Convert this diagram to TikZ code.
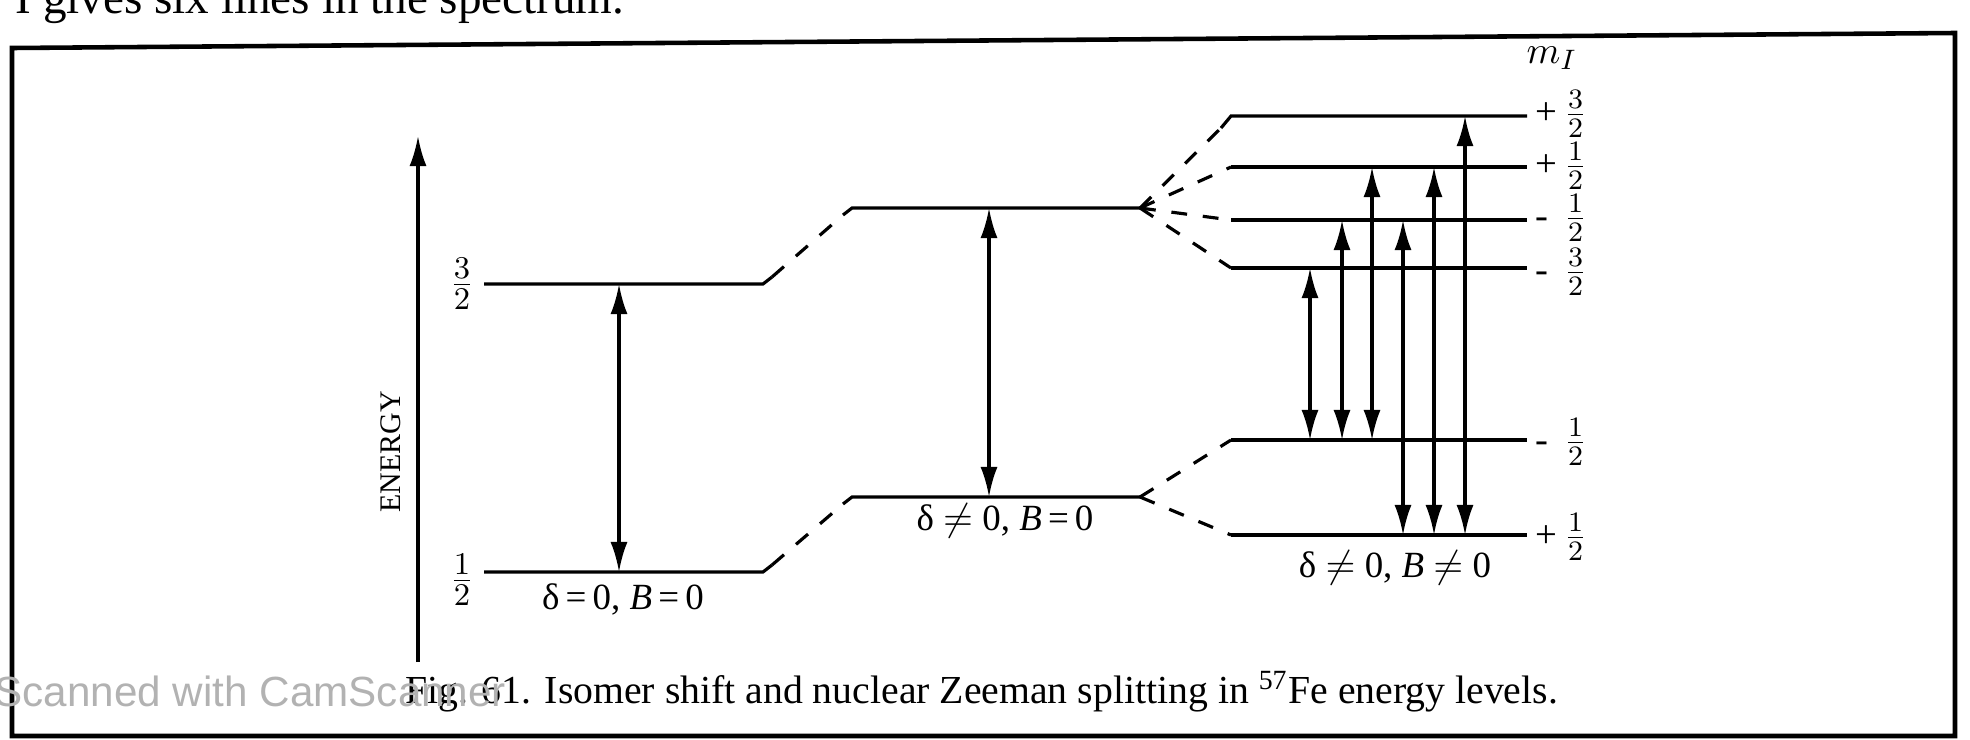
\documentclass[tikz,border=0pt]{standalone}
\usepackage{fontspec}
\setmainfont{Liberation Serif}
\newfontfamily\wmfont{Liberation Sans}
\usetikzlibrary{arrows.meta}
\tikzset{
  level/.style={line width=0.9pt},
  link/.style={line width=0.9pt, dash pattern=on 4.5pt off 4.5pt},
  trans/.style={line width=0.9pt, {Latex[length=3mm,width=1.7mm]}-{Latex[length=3mm,width=1.7mm]}},
  axis/.style={line width=0.9pt, -{Latex[length=3mm,width=1.7mm]}},
  mlabel/.style={anchor=west, inner sep=0pt, font=\fontsize{11}{12}\selectfont},
  cond/.style={font=\fontsize{10.5}{12}\selectfont},
}
\begin{document}
\begin{tikzpicture}[x=0.01cm,y=-0.01cm]
\useasboundingbox (0,0) rectangle (1970,739);
\draw[line width=1.3pt] (12,736) -- (12,48) -- (1955,33) -- (1955,736) -- cycle;
\node[anchor=base west, inner sep=0pt, font=\fontsize{13.4}{15}\selectfont] (prevline) at (15,13) {I gives six lines in the spectrum.};

\coordinate (ebot) at (418,662);
\coordinate (etop) at (418,136);
\draw[axis] (ebot) -- (etop);
\node[rotate=90, font=\fontsize{8.5}{10}\selectfont] (energy) at (391,452) {ENERGY};

\coordinate (a3l) at (484,284);
\coordinate (a3r) at (763,284);
\coordinate (a3e) at (772,277);
\coordinate (a1l) at (484,572);
\coordinate (a1r) at (763,572);
\coordinate (a1e) at (772,565);
\draw[level] (a3l) -- (a3r) -- (a3e);
\draw[level] (a1l) -- (a1r) -- (a1e);
\node[font=\fontsize{12.5}{14}\selectfont] (f3) at (462,284) {$\frac{3}{2}$};
\node[font=\fontsize{12.5}{14}\selectfont] (f1) at (462,580) {$\frac{1}{2}$};
\coordinate (ta) at (619,0);
\draw[trans] (ta |- a1l) -- (ta |- a3l);
\node[cond] (s0) at (623,599) {δ\,=\,0, \textit{B}\,=\,0};

\coordinate (m3s) at (843,215);
\coordinate (m3l) at (852,208);
\coordinate (m3r) at (1140,208);
\coordinate (m1s) at (843,504);
\coordinate (m1l) at (852,497);
\coordinate (m1r) at (1140,497);
\draw[link] (a3e) -- (m3s);
\draw[link] (a1e) -- (m1s);
\draw[level] (m3s) -- (m3l) -- (m3r);
\draw[level] (m1s) -- (m1l) -- (m1r);
\coordinate (tb) at (989,0);
\draw[trans] (tb |- m1l) -- (tb |- m3l);
\node[cond] (s1) at (1005,521) {δ \(\neq\) 0, \textit{B}\,=\,0};

\coordinate (r3s) at (1221,128);
\coordinate (r3l) at (1231,116);
\coordinate (r3r) at (1527,116);
\coordinate (r1l) at (1231,167);
\coordinate (r1r) at (1527,167);
\coordinate (rm1l) at (1231,220);
\coordinate (rm1r) at (1527,220);
\coordinate (rm3l) at (1231,268);
\coordinate (rm3r) at (1527,268);
\coordinate (gml) at (1231,440);
\coordinate (gmr) at (1527,440);
\coordinate (gpl) at (1231,535);
\coordinate (gpr) at (1527,535);
\draw[link] (m3r) -- (r3s);
\draw[link] (m3r) -- (r1l);
\draw[link] (m3r) -- (rm1l);
\draw[link] (m3r) -- (rm3l);
\draw[link] (m1r) -- (gml);
\draw[link] (m1r) -- (gpl);
\draw[level] (r3s) -- (r3l) -- (r3r);
\draw[level] (r1l) -- (r1r);
\draw[level] (rm1l) -- (rm1r);
\draw[level] (rm3l) -- (rm3r);
\draw[level] (gml) -- (gmr);
\draw[level] (gpl) -- (gpr);

\coordinate (x1) at (1310,0);
\coordinate (x2) at (1342,0);
\coordinate (x3) at (1372,0);
\coordinate (x4) at (1403,0);
\coordinate (x5) at (1434,0);
\coordinate (x6) at (1465,0);
\draw[trans] (x1 |- gml) -- (x1 |- rm3l);
\draw[trans] (x2 |- gml) -- (x2 |- rm1l);
\draw[trans] (x3 |- gml) -- (x3 |- r1l);
\draw[trans] (x4 |- gpl) -- (x4 |- rm1l);
\draw[trans] (x5 |- gpl) -- (x5 |- r1l);
\draw[trans] (x6 |- gpl) -- (x6 |- r3l);
\node[cond] (s2) at (1395,568) {δ \(\neq\) 0, \textit{B} \(\neq\) 0};

\node[font=\fontsize{11}{12}\selectfont] (mi) at (1552,58) {$m_I$};
\node[mlabel] (q3) at (1535,114) {\makebox[8pt][l]{+}$\frac{3}{2}$};
\node[mlabel] (q1) at (1535,166) {\makebox[8pt][l]{+}$\frac{1}{2}$};
\node[mlabel] (qm1) at (1535,218) {\makebox[8pt][l]{-}$\frac{1}{2}$};
\node[mlabel] (qm3) at (1535,272) {\makebox[8pt][l]{-}$\frac{3}{2}$};
\node[mlabel] (pm1) at (1535,442) {\makebox[8pt][l]{-}$\frac{1}{2}$};
\node[mlabel] (pp1) at (1535,537) {\makebox[8pt][l]{+}$\frac{1}{2}$};

\node[anchor=base west, inner sep=0pt, font=\fontsize{11.3}{13}\selectfont] (caption) at (405,703) {Fig. 61. Isomer shift and nuclear Zeeman splitting in \textsuperscript{57}Fe energy levels.};
\node[anchor=base west, inner sep=0pt, text=gray!60, font=\wmfont\fontsize{12}{14}\selectfont] (watermark) at (-6,706) {Scanned with CamScanner};
\end{tikzpicture}
\end{document}
